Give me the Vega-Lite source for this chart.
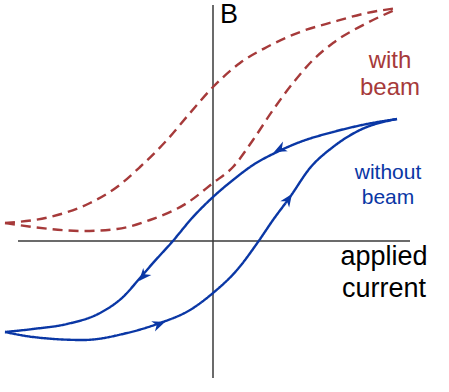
{
  "$schema": "https://vega.github.io/schema/vega-lite/v6.json",
  "width": 449,
  "height": 392,
  "padding": 0,
  "autosize": {"type": "fit", "contains": "padding"},
  "background": "white",
  "config": {"view": {"stroke": null}},
  "datasets": {
    "curves": [
      {"curve": "without beam", "branch": "descending", "x": 184, "y": 122},
      {"curve": "without beam", "branch": "descending", "x": 154, "y": 117},
      {"curve": "without beam", "branch": "descending", "x": 120, "y": 109},
      {"curve": "without beam", "branch": "descending", "x": 87, "y": 99},
      {"curve": "without beam", "branch": "descending", "x": 64, "y": 89},
      {"curve": "without beam", "branch": "descending", "x": 40, "y": 76},
      {"curve": "without beam", "branch": "descending", "x": 20, "y": 61},
      {"curve": "without beam", "branch": "descending", "x": 0, "y": 44},
      {"curve": "without beam", "branch": "descending", "x": -20, "y": 24},
      {"curve": "without beam", "branch": "descending", "x": -41, "y": -1},
      {"curve": "without beam", "branch": "descending", "x": -60, "y": -22},
      {"curve": "without beam", "branch": "descending", "x": -73, "y": -37},
      {"curve": "without beam", "branch": "descending", "x": -90, "y": -56},
      {"curve": "without beam", "branch": "descending", "x": -113, "y": -72},
      {"curve": "without beam", "branch": "descending", "x": -146, "y": -83},
      {"curve": "without beam", "branch": "descending", "x": -180, "y": -88},
      {"curve": "without beam", "branch": "descending", "x": -208, "y": -91},
      {"curve": "without beam", "branch": "ascending", "x": -208, "y": -91},
      {"curve": "without beam", "branch": "ascending", "x": -180, "y": -96},
      {"curve": "without beam", "branch": "ascending", "x": -130, "y": -99},
      {"curve": "without beam", "branch": "ascending", "x": -86, "y": -92},
      {"curve": "without beam", "branch": "ascending", "x": -53, "y": -82},
      {"curve": "without beam", "branch": "ascending", "x": -23, "y": -69},
      {"curve": "without beam", "branch": "ascending", "x": 0, "y": -52},
      {"curve": "without beam", "branch": "ascending", "x": 24, "y": -29},
      {"curve": "without beam", "branch": "ascending", "x": 45, "y": -1},
      {"curve": "without beam", "branch": "ascending", "x": 60, "y": 21},
      {"curve": "without beam", "branch": "ascending", "x": 77, "y": 44},
      {"curve": "without beam", "branch": "ascending", "x": 97, "y": 73},
      {"curve": "without beam", "branch": "ascending", "x": 120, "y": 94},
      {"curve": "without beam", "branch": "ascending", "x": 147, "y": 111},
      {"curve": "without beam", "branch": "ascending", "x": 184, "y": 122},
      {"curve": "with beam", "branch": "descending", "x": 184, "y": 233},
      {"curve": "with beam", "branch": "descending", "x": 154, "y": 228},
      {"curve": "with beam", "branch": "descending", "x": 120, "y": 219},
      {"curve": "with beam", "branch": "descending", "x": 87, "y": 209},
      {"curve": "with beam", "branch": "descending", "x": 54, "y": 194},
      {"curve": "with beam", "branch": "descending", "x": 27, "y": 178},
      {"curve": "with beam", "branch": "descending", "x": 0, "y": 154},
      {"curve": "with beam", "branch": "descending", "x": -23, "y": 128},
      {"curve": "with beam", "branch": "descending", "x": -46, "y": 101},
      {"curve": "with beam", "branch": "descending", "x": -73, "y": 74},
      {"curve": "with beam", "branch": "descending", "x": -96, "y": 54},
      {"curve": "with beam", "branch": "descending", "x": -123, "y": 38},
      {"curve": "with beam", "branch": "descending", "x": -163, "y": 24},
      {"curve": "with beam", "branch": "descending", "x": -208, "y": 18},
      {"curve": "with beam", "branch": "ascending", "x": -208, "y": 18},
      {"curve": "with beam", "branch": "ascending", "x": -180, "y": 14},
      {"curve": "with beam", "branch": "ascending", "x": -130, "y": 10},
      {"curve": "with beam", "branch": "ascending", "x": -96, "y": 12},
      {"curve": "with beam", "branch": "ascending", "x": -63, "y": 21},
      {"curve": "with beam", "branch": "ascending", "x": -26, "y": 38},
      {"curve": "with beam", "branch": "ascending", "x": 0, "y": 58},
      {"curve": "with beam", "branch": "ascending", "x": 20, "y": 74},
      {"curve": "with beam", "branch": "ascending", "x": 40, "y": 101},
      {"curve": "with beam", "branch": "ascending", "x": 60, "y": 131},
      {"curve": "with beam", "branch": "ascending", "x": 80, "y": 158},
      {"curve": "with beam", "branch": "ascending", "x": 100, "y": 181},
      {"curve": "with beam", "branch": "ascending", "x": 120, "y": 198},
      {"curve": "with beam", "branch": "ascending", "x": 154, "y": 218},
      {"curve": "with beam", "branch": "ascending", "x": 184, "y": 232}
    ],
    "arrows": [
      {"curve": "without beam", "x": 61, "y": 89, "heading": 154},
      {"curve": "without beam", "x": -74, "y": -40, "heading": 131},
      {"curve": "without beam", "x": -48, "y": -81, "heading": 340},
      {"curve": "without beam", "x": 79, "y": 47, "heading": 305}
    ],
    "axes": [
      {"name": "B", "x": 0, "x2": 0, "y": -137, "y2": 236},
      {"name": "applied current", "x": -195, "x2": 197, "y": 0, "y2": 0}
    ],
    "labels": [
      {"curve": "axis", "text": "B", "x": 16, "y": 218, "align": "left"},
      {"curve": "with beam", "text": "with", "x": 177, "y": 173, "align": "center"},
      {"curve": "with beam", "text": "beam", "x": 177, "y": 146, "align": "center"},
      {"curve": "without beam", "text": "without", "x": 175, "y": 62, "align": "center"},
      {"curve": "without beam", "text": "beam", "x": 175, "y": 37, "align": "center"},
      {"curve": "axis", "text": "applied", "x": 171, "y": -24, "align": "center"},
      {"curve": "axis", "text": "current", "x": 171, "y": -56, "align": "center"}
    ]
  },
  "layer": [
    {
      "data": {"name": "axes"},
      "mark": {"type": "rule", "color": "#3a3a3a", "strokeWidth": 1.5},
      "encoding": {
        "x": {"field": "x", "type": "quantitative", "scale": {"domain": [-213, 236], "nice": false, "zero": false}, "axis": null},
        "x2": {"field": "x2"},
        "y": {"field": "y", "type": "quantitative", "scale": {"domain": [-151, 241], "nice": false, "zero": false}, "axis": null},
        "y2": {"field": "y2"}
      }
    },
    {
      "data": {"name": "curves"},
      "mark": {"type": "line", "interpolate": "monotone", "strokeWidth": 2.4},
      "encoding": {
        "x": {"field": "x", "type": "quantitative", "axis": null},
        "y": {"field": "y", "type": "quantitative", "axis": null},
        "order": {"field": "x", "type": "quantitative"},
        "detail": {"field": "branch"},
        "color": {"field": "curve", "type": "nominal", "scale": {"domain": ["without beam", "with beam", "axis"], "range": ["#0a37a5", "#a63a3a", "#000000"]}, "legend": null},
        "strokeDash": {"field": "curve", "type": "nominal", "scale": {"domain": ["without beam", "with beam"], "range": [[1, 0], [10, 6]]}, "legend": null}
      }
    },
    {
      "data": {"name": "arrows"},
      "mark": {"type": "point", "filled": true, "opacity": 1, "shape": "M0,0 L-2,-0.85 L-1.4,0 L-2,0.85 Z", "size": 160, "strokeWidth": 0},
      "encoding": {
        "x": {"field": "x", "type": "quantitative", "axis": null},
        "y": {"field": "y", "type": "quantitative", "axis": null},
        "angle": {"field": "heading", "type": "quantitative", "scale": null},
        "color": {"field": "curve", "type": "nominal", "legend": null}
      }
    },
    {
      "data": {"name": "labels"},
      "mark": {"type": "text", "font": "Liberation Sans", "baseline": "alphabetic"},
      "encoding": {
        "x": {"field": "x", "type": "quantitative", "axis": null},
        "y": {"field": "y", "type": "quantitative", "axis": null},
        "text": {"field": "text"},
        "align": {"field": "align", "type": "nominal", "scale": null},
        "color": {"field": "curve", "type": "nominal", "legend": null},
        "size": {"field": "curve", "type": "nominal", "scale": {"domain": ["axis", "with beam", "without beam"], "range": [27, 21, 22]}, "legend": null}
      }
    }
  ]
}
